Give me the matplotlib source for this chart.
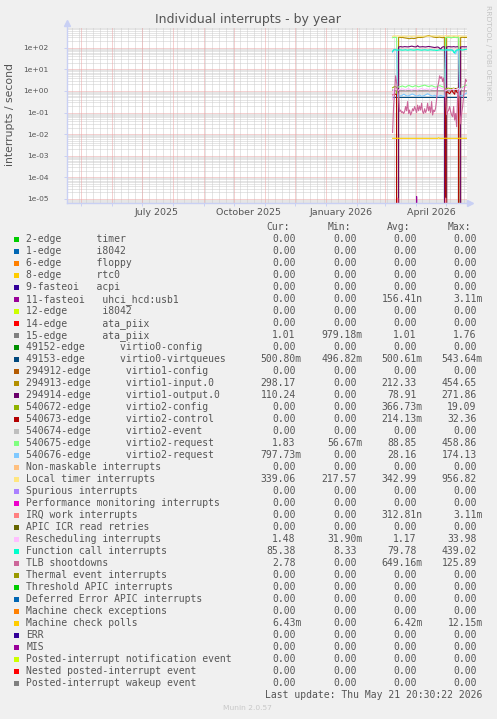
## munin style "Individual interrupts - by year" graph, redrawn with matplotlib
import numpy as np
import matplotlib
matplotlib.use('Agg')
import matplotlib.pyplot as plt
import matplotlib.dates as mdates
import pandas as pd
from matplotlib.patches import Rectangle
from matplotlib.ticker import NullLocator
from datetime import datetime, timedelta

nan = np.nan

# ---------------- data ----------------
# one consolidated point per day, 2026-03-08 .. 2026-05-21
first_day = datetime(2026, 3, 8, 12)
n_days = 75

local_timer = [
    325, 350, 355, 345, 340, 360, 345, 340, 338, 342,
    335, 340, 345, 338, 336, 342, 348, 340, 337, 335,
    340, 345, 342, 338, 340, 344, 350, 346, 340, 338,
    336, 340, 342, 345, 348, 344, 340, 338, 342, 346,
    350, 352, 348, 344, 340, 345, 350, 355, 352, 348,
    345, 342, 340, 365, 350, 348, 352, 355, 350, 346,
    348, 352, 350, 346, 344, 348, 350, 360, 345, 342,
    340, 338, 340, 342, 339]

virtio1_in = [
    nan, nan, nan, nan, nan, 0, 300, 305, 298, 295,
    300, 290, 285, 280, 275, 270, 265, 262, 268, 272,
    270, 265, 268, 275, 285, 295, 300, 298, 295, 300,
    305, 310, 320, 330, 345, 360, 365, 355, 340, 330,
    320, 310, 305, 300, 295, 300, 305, 310, 300, 295,
    290, 300, 295, 0, 300, 305, 310, 300, 295, 290,
    300, 310, 305, 300, 295, 300, 310, 0, 295, 300,
    305, 300, 296, 298, 298]

virtio1_out = [
    nan, nan, nan, nan, nan, 0, 108, 110, 112, 110,
    108, 110, 112, 111, 110, 109, 110, 112, 115, 118,
    116, 112, 110, 109, 112, 124, 112, 108, 109, 110,
    112, 110, 109, 108, 110, 112, 114, 112, 110, 108,
    106, 104, 102, 104, 106, 108, 104, 95, 85, 100,
    108, 111, 110, 0, 108, 110, 112, 111, 110, 109,
    110, 112, 110, 108, 110, 111, 110, 0, 108, 110,
    111, 110, 110, 110, 110]

func_call = [
    68, 78, 80, 79, 78, 76, 78, 80, 79, 78,
    77, 78, 79, 80, 78, 77, 78, 79, 80, 79,
    78, 77, 78, 79, 80, 81, 80, 79, 78, 77,
    78, 79, 80, 79, 78, 77, 78, 79, 80, 79,
    78, 77, 78, 76, 75, 76, 78, 79, 80, 79,
    78, 77, 78, 80, 79, 78, 77, 78, 79, 78,
    76, 62, 58, 72, 78, 79, 80, 82, 80, 79,
    78, 80, 82, 84, 85]

virtio2_req_b = [
    62, 80, 85, 82, 80, 0.55, 0.6, 0.62, 0.58, 0.6,
    0.65, 0.7, 0.68, 0.62, 0.6, 0.58, 0.6, 0.63, 0.66, 0.7,
    0.72, 0.68, 0.64, 0.6, 0.58, 0.6, 0.62, 0.65, 0.6, 0.57,
    0.58, 0.6, 0.62, 0.66, 0.7, 0.74, 0.7, 0.66, 0.62, 0.6,
    0.58, 0.6, 0.63, 0.6, 0.58, 0.56, 0.58, 0.6, 0.62, 0.6,
    0.58, 0.56, 0.57, 78, 80, 82, 81, 80, 79, 80,
    78, 72, 55, 52, 70, 78, 80, 0.6, 0.58, 0.6,
    0.62, 0.65, 0.7, 0.75, 0.8]

virtio2_req_a = [
    290, 300, 305, 300, 298, 1.6, 1.5, 1.55, 1.6, 1.65,
    1.7, 1.6, 1.55, 1.5, 1.6, 1.7, 1.8, 1.75, 1.65, 1.6,
    1.55, 1.6, 1.7, 1.75, 1.7, 1.6, 1.55, 1.6, 1.65, 1.7,
    1.75, 1.8, 1.85, 1.8, 1.7, 1.65, 1.6, 1.65, 1.7, 1.75,
    1.7, 1.6, 1.55, 1.5, 1.55, 1.6, 1.7, 1.75, 1.7, 1.6,
    1.55, 1.5, 1.6, 300, 305, 300, 298, 302, 300, 298,
    300, 305, 300, 298, 300, 302, 300, 1.4, 1.2, 1.3,
    1.5, 1.6, 1.7, 1.8, 1.83]

virtio2_cfg = [
    1.4, 1.5, 1.6, 1.55, 1.5, 0, 0, 0, 0, 0,
    0, 0, 0, 0, 0, 0, 0, 0, 0, 0,
    0, 0, 0, 0, 0, 0, 0, 0, 0, 0,
    0, 0, 0, 0, 0, 0, 0, 0, 0, 0,
    0, 0, 0, 0, 0, 0, 0, 0, 0, 0,
    0, 0, 0, 1.3, 1.25, 1.3, 1.35, 1.3, 1.25, 1.3,
    1.3, 1.35, 1.3, 1.25, 1.3, 1.35, 1.3, 0, 0, 0,
    0, 0, 0, 0, 0]

virtio2_ctl = [
    0.65, 0.7, 0.72, 0.7, 0.68, 0, 0, 0, 0, 0,
    0, 0, 0, 0, 0, 0, 0, 0, 0, 0,
    0, 0, 0, 0, 0, 0, 0, 0, 0, 0,
    0, 0, 0, 0, 0, 0, 0, 0, 0, 0,
    0, 0, 0, 0, 0, 0, 0, 0, 0, 0,
    0, 0, 0, 0.8, 0.85, 0.9, 0.8, 0.75, 0.85, 1.2,
    0.9, 0.8, 0.7, 1.3, 0.9, 0.8, 0.85, 0, 0, 0,
    0, 0, 0, 0, 0]

tlb = [
    0.012, 0.19, 0.8, 5.0, 2.5, 1.0, 0.6, 0.11, 0.13, 0.1,
    0.11, 0.09, 0.11, 0.19, 0.12, 0.32, 0.09, 0.13, 0.077, 0.1,
    0.15, 0.12, 0.19, 0.14, 0.1, 0.22, 0.12, 0.2, 0.13, 0.27,
    0.11, 0.09, 0.15, 0.1, 0.13, 0.27, 0.12, 0.19, 0.1, 0.32,
    0.077, 0.13, 0.11, 0.16, 0.4, 1.5, 2.5, 5.0, 3.8, 4.5,
    2.7, 4.0, 1.2, 0.5, 0.08, 0.11, 0.13, 0.19, 0.11, 0.077,
    0.064, 0.19, 0.045, 0.09, 0.022, 0.6, 1.1, 0.1, 0.03, 0.09,
    0.19, 0.6, 1.5, 3.5, 2.78]

resched = [
    0.4, 1.1, 1.2, 1.3, 1.2, 1.0, 1.1, 1.2, 1.15, 1.2,
    1.25, 1.2, 1.15, 1.1, 1.2, 1.25, 1.3, 1.2, 1.15, 1.1,
    1.15, 1.2, 1.25, 1.2, 1.15, 1.1, 1.15, 1.2, 1.25, 1.3,
    1.25, 1.2, 1.15, 1.2, 1.25, 1.2, 1.15, 1.1, 1.15, 1.2,
    1.25, 1.3, 1.35, 1.3, 1.25, 1.4, 1.5, 1.45, 1.35, 1.3,
    1.25, 1.2, 1.15, 1.0, 1.1, 1.15, 1.2, 1.15, 1.1, 1.15,
    1.2, 1.25, 1.2, 1.15, 1.2, 1.25, 1.3, 1.0, 1.2, 1.3,
    1.35, 1.4, 1.45, 1.5, 1.48]

ata_piix15 = [
    1.1, 1.03, 1.02, 1.01, 1.01, 1.02, 1.01, 1.01, 1.01, 1.01,
    1.01, 1.01, 1.01, 1.01, 1.01, 1.01, 1.01, 1.01, 1.01, 1.01,
    1.01, 1.01, 1.01, 1.01, 1.01, 1.01, 1.01, 1.01, 1.01, 1.01,
    1.01, 1.01, 1.01, 1.01, 1.01, 1.01, 1.01, 1.01, 1.01, 1.01,
    1.01, 1.01, 1.01, 1.01, 1.01, 1.01, 1.01, 1.01, 1.01, 1.01,
    1.01, 1.01, 1.01, 1.02, 1.01, 1.01, 1.01, 1.01, 1.01, 1.01,
    1.01, 1.01, 1.01, 1.01, 1.01, 1.01, 1.01, 1.02, 1.01, 1.01,
    1.01, 1.01, 1.01, 1.01, 1.01]

virtio0_vq = [
    0.51, 0.5, 0.5, 0.5, 0.5, 0.52, 0.5, 0.5, 0.5, 0.5,
    0.5, 0.5, 0.5, 0.5, 0.5, 0.5, 0.5, 0.5, 0.5, 0.5,
    0.5, 0.5, 0.5, 0.5, 0.5, 0.5, 0.5, 0.5, 0.5, 0.5,
    0.5, 0.5, 0.5, 0.5, 0.5, 0.5, 0.5, 0.5, 0.5, 0.5,
    0.5, 0.5, 0.5, 0.5, 0.5, 0.5, 0.5, 0.5, 0.5, 0.5,
    0.5, 0.5, 0.5, 0.52, 0.5, 0.5, 0.5, 0.5, 0.5, 0.5,
    0.5, 0.5, 0.5, 0.5, 0.5, 0.5, 0.5, 0.52, 0.5, 0.5,
    0.5, 0.5, 0.5, 0.5, 0.5]

mce_polls = [
    0.0064, 0.0064, 0.0064, 0.0064, 0.0064, 0.0065, 0.0064, 0.0064, 0.0064, 0.0064,
    0.0064, 0.0064, 0.0064, 0.0064, 0.0064, 0.0064, 0.0064, 0.0064, 0.0064, 0.0064,
    0.0064, 0.0064, 0.0064, 0.0064, 0.0064, 0.0064, 0.0064, 0.0064, 0.0064, 0.0064,
    0.0064, 0.0064, 0.0064, 0.0064, 0.0064, 0.0064, 0.0064, 0.0064, 0.0064, 0.0064,
    0.0064, 0.0064, 0.0064, 0.0064, 0.0064, 0.0064, 0.0068, 0.0064, 0.0064, 0.0064,
    0.0064, 0.0064, 0.0064, 0.0065, 0.0064, 0.0064, 0.0064, 0.0064, 0.0064, 0.0064,
    0.0064, 0.0064, 0.0064, 0.0064, 0.0064, 0.0064, 0.0064, 0.0065, 0.0064, 0.0064,
    0.0064, 0.0064, 0.0064, 0.0064, 0.0064]

uhci_usb1 = [
    0, 0, 0, 0, 0, 0, 0, 0, 0, 0,
    0, 0, 0, 0, 0, 0, 0, 0, 0, 0,
    0, 0, 0, 0, 1.3e-05, 0, 0, 0, 0, 0,
    0, 0, 0, 0, 0, 0, 0, 0, 0, 0,
    0, 0, 0, 0, 0, 0, 0, 0, 0, 0,
    0, 0, 0, 0, 0, 0, 0, 0, 0, 0,
    0, 0, 0, 0, 0, 0, 0, 0, 0, 0,
    0, 0, 0, 0, 0]

irq_work = [
    0, 0, 0, 0, 0, 1.1e-05, 0, 0, 0, 0,
    0, 0, 0, 0, 0, 0, 0, 0, 0, 0,
    0, 0, 0, 0, 0, 0, 0, 0, 0, 0,
    0, 0, 0, 0, 0, 0, 0, 0, 0, 0,
    0, 0, 0, 0, 0, 0, 0, 0, 0, 0,
    0, 0, 0, 1.1e-05, 0, 0, 0, 0, 0, 0,
    0, 0, 0, 0, 0, 0, 0, 0, 0, 0,
    0, 0, 0, 0, 0]

# legend rows (draw order == legend order)
legend_labels = [
    '2-edge      timer', '1-edge      i8042', '6-edge      floppy',
    '8-edge      rtc0', '9-fasteoi   acpi', '11-fasteoi   uhci_hcd:usb1',
    '12-edge      i8042', '14-edge      ata_piix', '15-edge      ata_piix',
    '49152-edge      virtio0-config', '49153-edge      virtio0-virtqueues',
    '294912-edge      virtio1-config', '294913-edge      virtio1-input.0',
    '294914-edge      virtio1-output.0', '540672-edge      virtio2-config',
    '540673-edge      virtio2-control', '540674-edge      virtio2-event',
    '540675-edge      virtio2-request', '540676-edge      virtio2-request',
    'Non-maskable interrupts', 'Local timer interrupts', 'Spurious interrupts',
    'Performance monitoring interrupts', 'IRQ work interrupts',
    'APIC ICR read retries', 'Rescheduling interrupts',
    'Function call interrupts', 'TLB shootdowns', 'Thermal event interrupts',
    'Threshold APIC interrupts', 'Deferred Error APIC interrupts',
    'Machine check exceptions', 'Machine check polls', 'ERR', 'MIS',
    'Posted-interrupt notification event', 'Nested posted-interrupt event',
    'Posted-interrupt wakeup event']

legend_colors = [
    '#00CC00', '#0066B3', '#FF8000', '#FFCC00', '#330099', '#990099',
    '#CCFF00', '#FF0000', '#808080', '#008F00', '#00487D', '#B35A00',
    '#B38F00', '#6B006B', '#8FB300', '#B30000', '#BEBEBE', '#80FF80',
    '#80C9FF', '#FFC080', '#FFE680', '#AA80FF', '#EE00CC', '#FF8080',
    '#666600', '#FFBFFF', '#00FFCC', '#CC6699', '#999900', '#00CC00',
    '#0066B3', '#FF8000', '#FFCC00', '#330099', '#990099', '#CCFF00',
    '#FF0000', '#808080']

cur_vals = ['0.00', '0.00', '0.00', '0.00', '0.00', '0.00', '0.00', '0.00',
            '1.01', '0.00', '500.80m', '0.00', '298.17', '110.24', '0.00',
            '0.00', '0.00', '1.83', '797.73m', '0.00', '339.06', '0.00',
            '0.00', '0.00', '0.00', '1.48', '85.38', '2.78', '0.00', '0.00',
            '0.00', '0.00', '6.43m', '0.00', '0.00', '0.00', '0.00', '0.00']
min_vals = ['0.00', '0.00', '0.00', '0.00', '0.00', '0.00', '0.00', '0.00',
            '979.18m', '0.00', '496.82m', '0.00', '0.00', '0.00', '0.00',
            '0.00', '0.00', '56.67m', '0.00', '0.00', '217.57', '0.00',
            '0.00', '0.00', '0.00', '31.90m', '8.33', '0.00', '0.00', '0.00',
            '0.00', '0.00', '0.00', '0.00', '0.00', '0.00', '0.00', '0.00']
avg_vals = ['0.00', '0.00', '0.00', '0.00', '0.00', '156.41n', '0.00', '0.00',
            '1.01', '0.00', '500.61m', '0.00', '212.33', '78.91', '366.73m',
            '214.13m', '0.00', '88.85', '28.16', '0.00', '342.99', '0.00',
            '0.00', '312.81n', '0.00', '1.17', '79.78', '649.16m', '0.00',
            '0.00', '0.00', '0.00', '6.42m', '0.00', '0.00', '0.00', '0.00',
            '0.00']
max_vals = ['0.00', '0.00', '0.00', '0.00', '0.00', '3.11m', '0.00', '0.00',
            '1.76', '0.00', '543.64m', '0.00', '454.65', '271.86', '19.09',
            '32.36', '0.00', '458.86', '174.13', '0.00', '956.82', '0.00',
            '0.00', '3.11m', '0.00', '33.98', '439.02', '125.89', '0.00',
            '0.00', '0.00', '0.00', '12.15m', '0.00', '0.00', '0.00', '0.00',
            '0.00']

# legend index -> daily series (all other rows are flat zero)
plotted = {5: uhci_usb1, 8: ata_piix15, 10: virtio0_vq, 12: virtio1_in,
           13: virtio1_out, 14: virtio2_cfg, 15: virtio2_ctl,
           17: virtio2_req_a, 18: virtio2_req_b, 20: local_timer,
           23: irq_work, 25: resched, 26: func_call, 27: tlb, 32: mce_polls}

x_labels = ['July 2025', 'October 2025', 'January 2026', 'April 2026']
x_label_dates = [datetime(2025, 7, 16), datetime(2025, 10, 16),
                 datetime(2026, 1, 16), datetime(2026, 4, 16)]

# ---------------- layout ----------------
W, H = 497, 719
BG = '#F0F0F0'
TXT = '#555555'
AXC = '#C9D0F4'
MAJ = '#EBA4A4'
MIN = '#CDCDCD'

t_end = datetime(2026, 5, 21, 20, 30)
t_start = t_end - timedelta(days=400)
days = [first_day + timedelta(days=i) for i in range(n_days)]

fig = plt.figure(figsize=(W / 100, H / 100), dpi=100, facecolor=BG)
ax_l, ax_r, ax_t, ax_b = 66.7, 467.0, 28.0, 202.7
ax = fig.add_axes([ax_l / W, 1 - ax_b / H, (ax_r - ax_l) / W, (ax_b - ax_t) / H],
                  facecolor='#FFFFFF')
ax.set_yscale('log', nonpositive='clip')
ax.set_xlim(t_start, t_end)
ax.set_ylim(10 ** -5.173, 10 ** 2.912)

# grid: gray dotted minor, red dotted major
dots = (0, (1, 1))
gkw = dict(lw=0.72, ls=dots, snap=True)
for d in range(-6, 3):
    for m in range(2, 10):
        ax.axhline(m * 10.0 ** d, color=MIN, zorder=0.5, **gkw)
for d in pd.date_range(t_start, t_end, freq='W-MON'):
    ax.axvline(d, color=MIN, zorder=0.5, **gkw)
for d in range(-5, 3):
    ax.axhline(10.0 ** d, color=MAJ, zorder=0.6, **gkw)
month_starts = pd.date_range('2025-05-01', '2026-05-01', freq='MS')
for d in month_starts:
    ax.axvline(d, color=MAJ, zorder=0.6, **gkw)

# data lines
for k in sorted(plotted):
    ax.plot(days, plotted[k], color=legend_colors[k], lw=0.8, zorder=2 + k * 0.01)

# axes, arrows
for s in ax.spines.values():
    s.set_visible(False)
ax.plot([0, 0], [0, 1.03], transform=ax.transAxes, color=AXC, lw=1.0,
        clip_on=False, zorder=5)
ax.plot([0, 1.008], [0, 0], transform=ax.transAxes, color=AXC, lw=1.0,
        clip_on=False, zorder=5)
ax.plot([0], [1.03], marker='^', ms=4, color=AXC, transform=ax.transAxes,
        clip_on=False, zorder=5)
ax.plot([1.008], [0], marker='>', ms=4, color=AXC, transform=ax.transAxes,
        clip_on=False, zorder=5)

ax.set_xticks(mdates.date2num(month_starts.to_pydatetime()))
ax.set_xticklabels([])
ax.set_xticks(mdates.date2num(x_label_dates), minor=True)
ax.set_xticklabels(x_labels, minor=True)
ax.tick_params(axis='x', which='major', length=2, color=AXC, width=0.7)
ax.tick_params(axis='x', which='minor', length=0, pad=3.5, labelsize=6.8,
               labelcolor=TXT)

ax.set_yticks([10.0 ** d for d in range(-5, 3)])
ax.set_yticklabels(['1e-05', '1e-04', '1e-03', '1e-02', '1e-01', '1e+00',
                    '1e+01', '1e+02'])
ax.yaxis.set_minor_locator(NullLocator())
ax.tick_params(axis='y', which='major', length=2, color=AXC, width=0.7,
               pad=11, labelsize=5.4, labelcolor=TXT)

# titles
fig.text(248 / W, 1 - 19 / H, 'Individual interrupts - by year', ha='center',
         va='center', fontsize=9, color=TXT)
fig.text(10.5 / W, 1 - 115 / H, 'interrupts / second', rotation=90,
         ha='center', va='center', fontsize=7.8, color=TXT)
fig.text(488 / W, 1 - 53 / H, 'RRDTOOL / TOBI OETIKER', rotation=270,
         ha='center', va='center', fontsize=5.4, color='#C4C4C4')

# legend table
mono = 'DejaVu Sans Mono'
fs = 7.0
cw = 5.97
row0 = 242.3
step = 12.0
col_edges = [301.7, 362.7, 422.7, 482.7]
for name, edge in zip(['Cur:', 'Min:', 'Avg:', 'Max:'], col_edges):
    fig.text((edge - 2 * cw) / W, 1 - (row0 - step) / H, name, ha='right',
             va='baseline', family=mono, fontsize=fs, color=TXT)

for k, name in enumerate(legend_labels):
    base = row0 + k * step
    fig.add_artist(Rectangle((14 / W, 1 - base / H), 5 / W, 5 / H,
                             transform=fig.transFigure,
                             facecolor=legend_colors[k], edgecolor='none'))
    fig.text(26.3 / W, 1 - base / H, name, ha='left', va='baseline',
             family=mono, fontsize=fs, color=TXT)
    for col, edge in zip([cur_vals, min_vals, avg_vals, max_vals], col_edges):
        s = col[k]
        x = edge if s[-1].isalpha() else edge - cw
        fig.text(x / W, 1 - base / H, s, ha='right', va='baseline',
                 family=mono, fontsize=fs, color=TXT)

fig.text(482.7 / W, 1 - (row0 + 38 * step) / H,
         'Last update: Thu May 21 20:30:22 2026', ha='right', va='baseline',
         family=mono, fontsize=fs, color=TXT)
fig.text(247.7 / W, 1 - 707.7 / H, 'Munin 2.0.57', ha='center', va='center',
         fontsize=5.4, color='#C8C8C8')

fig.savefig('out.png', dpi=100, facecolor=BG)
